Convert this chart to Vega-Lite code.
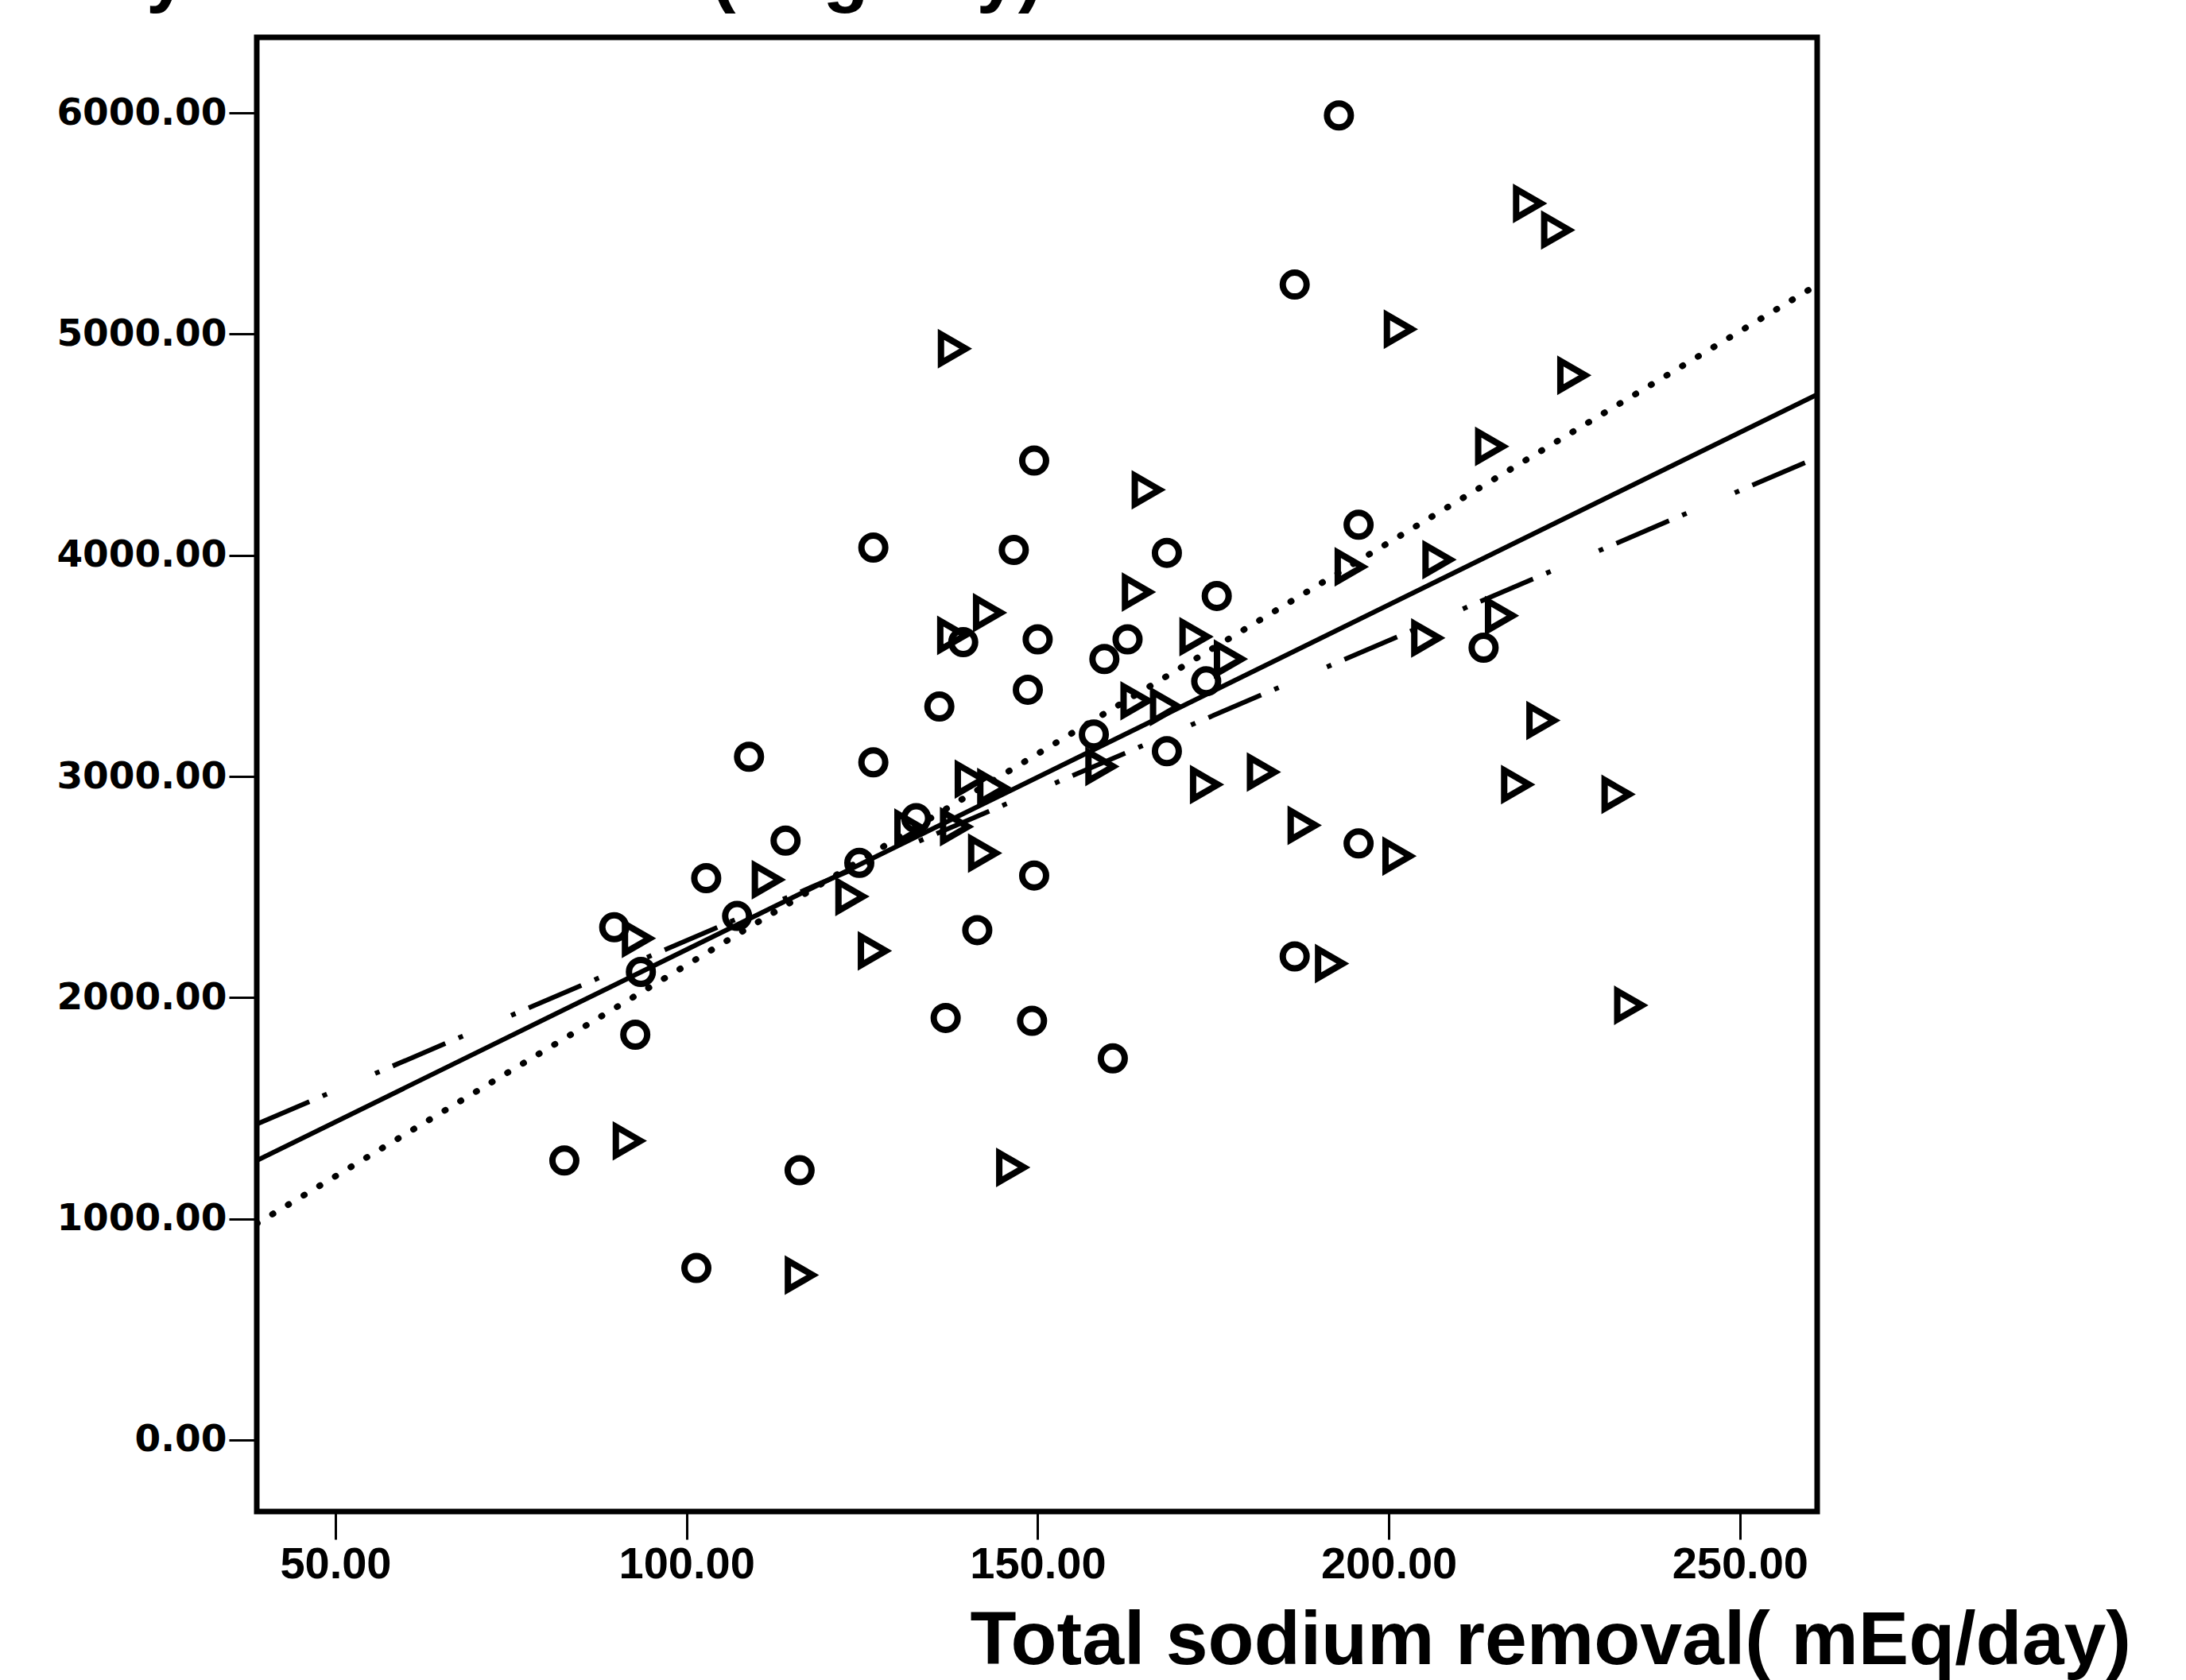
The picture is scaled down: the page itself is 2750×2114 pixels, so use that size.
{
  "$schema": "https://vega.github.io/schema/vega-lite/v6.json",
  "width": 1963,
  "height": 1855,
  "autosize": {"type": "none"},
  "padding": {"left": 323, "top": 47, "right": 464, "bottom": 212},
  "background": "white",
  "config": {"view": {"stroke": "black", "strokeWidth": 7}},
  "datasets": {
    "points": [
      {"group": "1", "removal": 192.9, "intake": 5989},
      {"group": "1", "removal": 186.6, "intake": 5224},
      {"group": "1", "removal": 149.5, "intake": 4428},
      {"group": "1", "removal": 126.6, "intake": 4035},
      {"group": "1", "removal": 146.6, "intake": 4024},
      {"group": "1", "removal": 168.4, "intake": 4011},
      {"group": "1", "removal": 195.7, "intake": 4138},
      {"group": "1", "removal": 175.5, "intake": 3816},
      {"group": "1", "removal": 139.4, "intake": 3607},
      {"group": "1", "removal": 150.0, "intake": 3620},
      {"group": "1", "removal": 162.8, "intake": 3620},
      {"group": "1", "removal": 159.5, "intake": 3531},
      {"group": "1", "removal": 174.0, "intake": 3430},
      {"group": "1", "removal": 213.5, "intake": 3582},
      {"group": "1", "removal": 148.6, "intake": 3392},
      {"group": "1", "removal": 136.0, "intake": 3316},
      {"group": "1", "removal": 158.0, "intake": 3190},
      {"group": "1", "removal": 108.9, "intake": 3089},
      {"group": "1", "removal": 126.6, "intake": 3064},
      {"group": "1", "removal": 168.4, "intake": 3114},
      {"group": "1", "removal": 132.7, "intake": 2811},
      {"group": "1", "removal": 114.1, "intake": 2710},
      {"group": "1", "removal": 124.6, "intake": 2609},
      {"group": "1", "removal": 102.8, "intake": 2540},
      {"group": "1", "removal": 107.2, "intake": 2369},
      {"group": "1", "removal": 89.7, "intake": 2318},
      {"group": "1", "removal": 93.5, "intake": 2116},
      {"group": "1", "removal": 149.5, "intake": 2552},
      {"group": "1", "removal": 141.4, "intake": 2305},
      {"group": "1", "removal": 195.7, "intake": 2697},
      {"group": "1", "removal": 92.7, "intake": 1832},
      {"group": "1", "removal": 136.9, "intake": 1908},
      {"group": "1", "removal": 149.2, "intake": 1895},
      {"group": "1", "removal": 186.6, "intake": 2186},
      {"group": "1", "removal": 160.7, "intake": 1725},
      {"group": "1", "removal": 82.6, "intake": 1263},
      {"group": "1", "removal": 116.1, "intake": 1219},
      {"group": "1", "removal": 101.4, "intake": 777},
      {"group": "2", "removal": 138.0, "intake": 4934},
      {"group": "2", "removal": 219.9, "intake": 5591},
      {"group": "2", "removal": 223.9, "intake": 5471},
      {"group": "2", "removal": 201.5, "intake": 5022},
      {"group": "2", "removal": 226.2, "intake": 4814},
      {"group": "2", "removal": 214.5, "intake": 4492},
      {"group": "2", "removal": 165.6, "intake": 4296},
      {"group": "2", "removal": 194.5, "intake": 3948},
      {"group": "2", "removal": 207.0, "intake": 3980},
      {"group": "2", "removal": 164.2, "intake": 3834},
      {"group": "2", "removal": 143.0, "intake": 3740},
      {"group": "2", "removal": 137.9, "intake": 3638},
      {"group": "2", "removal": 172.4, "intake": 3632},
      {"group": "2", "removal": 215.9, "intake": 3727},
      {"group": "2", "removal": 205.4, "intake": 3626},
      {"group": "2", "removal": 177.3, "intake": 3531},
      {"group": "2", "removal": 164.0, "intake": 3342},
      {"group": "2", "removal": 168.2, "intake": 3316},
      {"group": "2", "removal": 159.0, "intake": 3045},
      {"group": "2", "removal": 140.4, "intake": 2988},
      {"group": "2", "removal": 143.6, "intake": 2950},
      {"group": "2", "removal": 173.9, "intake": 2963},
      {"group": "2", "removal": 182.0, "intake": 3020},
      {"group": "2", "removal": 218.2, "intake": 2963},
      {"group": "2", "removal": 232.5, "intake": 2919},
      {"group": "2", "removal": 221.8, "intake": 3253},
      {"group": "2", "removal": 131.8, "intake": 2767},
      {"group": "2", "removal": 138.3, "intake": 2773},
      {"group": "2", "removal": 142.3, "intake": 2653},
      {"group": "2", "removal": 111.5, "intake": 2533},
      {"group": "2", "removal": 123.4, "intake": 2457},
      {"group": "2", "removal": 93.0, "intake": 2268},
      {"group": "2", "removal": 126.6, "intake": 2211},
      {"group": "2", "removal": 187.8, "intake": 2779},
      {"group": "2", "removal": 201.3, "intake": 2640},
      {"group": "2", "removal": 191.7, "intake": 2154},
      {"group": "2", "removal": 234.3, "intake": 1965},
      {"group": "2", "removal": 91.7, "intake": 1352},
      {"group": "2", "removal": 146.3, "intake": 1232},
      {"group": "2", "removal": 116.2, "intake": 745}
    ],
    "lines": [
      {"fit": "total", "removal": 38.8, "intake": 1263},
      {"fit": "total", "removal": 261.0, "intake": 4727},
      {"fit": "group1", "removal": 38.8, "intake": 978},
      {"fit": "group1", "removal": 261.0, "intake": 5223},
      {"fit": "group2", "removal": 38.8, "intake": 1428},
      {"fit": "group2", "removal": 261.0, "intake": 4442}
    ]
  },
  "encoding": {
    "x": {
      "field": "removal",
      "type": "quantitative",
      "scale": {"domain": [38.8, 261.0], "nice": false, "zero": false},
      "axis": {
        "values": [50, 100, 150, 200, 250],
        "format": ".2f",
        "grid": false,
        "domain": false,
        "labelFont": "Liberation Sans",
        "labelFontWeight": "bold",
        "labelFontSize": 56,
        "labelColor": "black",
        "labelPadding": 4,
        "labelFlush": false,
        "labelOverlap": false,
        "labelLimit": 0,
        "tickSize": 35,
        "tickWidth": 3,
        "tickColor": "black",
        "title": "Total sodium removal( mEq/day)",
        "titleFont": "Liberation Sans",
        "titleFontWeight": "bold",
        "titleFontSize": 95,
        "titleColor": "black",
        "titleAlign": "left",
        "titleBaseline": "alphabetic",
        "titleLimit": 0,
        "titleX": 897,
        "titleY": 191
      }
    },
    "y": {
      "field": "intake",
      "type": "quantitative",
      "scale": {"domain": [-324, 6342], "nice": false, "zero": false},
      "axis": {
        "values": [0, 1000, 2000, 3000, 4000, 5000, 6000],
        "format": ".2f",
        "grid": false,
        "domain": false,
        "labelFont": "DejaVu Sans",
        "labelFontWeight": "bold",
        "labelFontSize": 47,
        "labelColor": "black",
        "labelPadding": 3,
        "labelOverlap": false,
        "labelLimit": 0,
        "tickSize": 35,
        "tickWidth": 3,
        "tickColor": "black",
        "title": "Daily sodium intake( mg/day)",
        "titleFont": "Liberation Sans",
        "titleFontWeight": "bold",
        "titleFontSize": 94,
        "titleColor": "black",
        "titleAngle": 0,
        "titleAlign": "left",
        "titleBaseline": "alphabetic",
        "titleLimit": 0,
        "titleX": -312,
        "titleY": -51
      }
    }
  },
  "layer": [
    {
      "data": {"name": "lines"},
      "transform": [{"filter": "datum.fit === 'total'"}],
      "mark": {"type": "line", "color": "black", "strokeWidth": 6, "clip": true}
    },
    {
      "data": {"name": "lines"},
      "transform": [{"filter": "datum.fit === 'group1'"}],
      "mark": {"type": "line", "color": "black", "strokeWidth": 8, "strokeCap": "round", "strokeDash": [1, 22], "clip": true}
    },
    {
      "data": {"name": "lines"},
      "transform": [{"filter": "datum.fit === 'group2'"}],
      "mark": {"type": "line", "color": "black", "strokeWidth": 6, "strokeDash": [72, 18, 6, 66, 6, 18], "clip": true}
    },
    {
      "data": {"name": "points"},
      "transform": [{"filter": "datum.group === '1'"}],
      "mark": {"type": "point", "shape": "circle", "filled": false, "size": 900, "strokeWidth": 8, "color": "black", "opacity": 1}
    },
    {
      "data": {"name": "points"},
      "transform": [{"filter": "datum.group === '2'"}],
      "mark": {"type": "point", "shape": "triangle-right", "filled": false, "size": 1300, "strokeWidth": 8, "color": "black", "opacity": 1}
    }
  ]
}
